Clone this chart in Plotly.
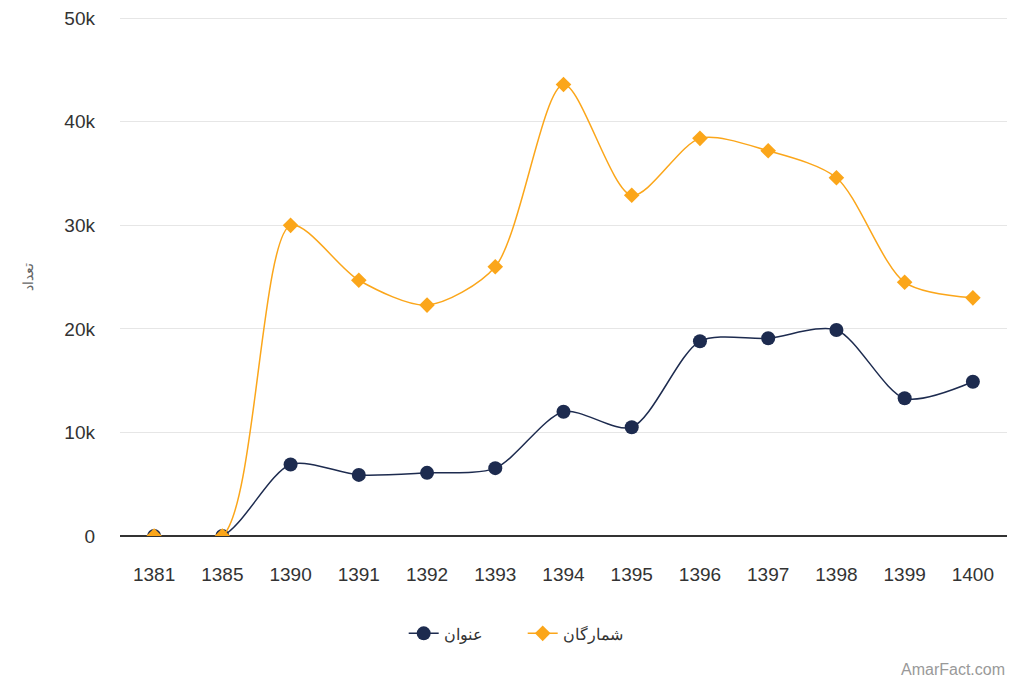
import plotly.graph_objects as go

years = ["1381", "1385", "1390", "1391", "1392", "1393", "1394", "1395", "1396", "1397", "1398", "1399", "1400"]
titles = [0, 0, 6900, 5900, 6100, 6550, 12000, 10500, 18800, 19100, 19900, 13300, 14900]
circulation = [0, 0, 30000, 24700, 22300, 26000, 43600, 32900, 38400, 37200, 34600, 24500, 23000]
y_ticks = [0, 10000, 20000, 30000, 40000, 50000]
y_tick_labels = ["0", "10k", "20k", "30k", "40k", "50k"]

navy = "#1d2b4f"
orange = "#fba61a"

fig = go.Figure()
fig.add_trace(go.Scatter(
    x=years, y=titles, name="عنوان", mode="lines+markers",
    line=dict(color=navy, width=1.5, shape="spline", smoothing=0.8),
    marker=dict(symbol="circle", size=14, color=navy),
))
fig.add_trace(go.Scatter(
    x=years, y=circulation, name="شمارگان", mode="lines+markers",
    line=dict(color=orange, width=1.5, shape="spline", smoothing=0.8),
    marker=dict(symbol="diamond", size=12, color=orange),
))

# page body adds an 8px offset; size and margins compensate for it
fig.update_layout(
    width=1016, height=675,
    margin=dict(l=112, r=17, t=9, b=147, autoexpand=False),
    plot_bgcolor="white", paper_bgcolor="white",
    font=dict(family="Liberation Sans, Arial, sans-serif", color="#333333"),
    showlegend=True,
    legend=dict(orientation="h", x=0.454, xanchor="center", y=-0.155, yanchor="top",
                font=dict(size=16, color="#333333"), traceorder="normal",
                entrywidth=74),
    hovermode="x unified",
)
fig.update_xaxes(
    type="category", range=[-0.5, 12.5], automargin=False,
    showgrid=False, showline=False, zeroline=False,
    tickfont=dict(size=19, color="#333333"), ticks="", ticklabelstandoff=25,
)
fig.update_yaxes(
    range=[0, 50120], tickvals=y_ticks, ticktext=y_tick_labels, automargin=False,
    showgrid=True, gridcolor="#e6e6e6", gridwidth=1,
    zeroline=True, zerolinecolor="#333333", zerolinewidth=1.5,
    tickfont=dict(size=19, color="#333333"), ticklabelstandoff=24,
    ticklabeloverflow="allow",
    title=dict(text="تعداد", font=dict(size=14, color="#666666"), standoff=27),
)
fig.add_annotation(
    text="AmarFact.com", xref="paper", yref="paper", x=1.0, y=-0.237,
    xanchor="right", yanchor="top", showarrow=False,
    font=dict(size=16, color="#999999"),
)

fig.write_html("out.html")
